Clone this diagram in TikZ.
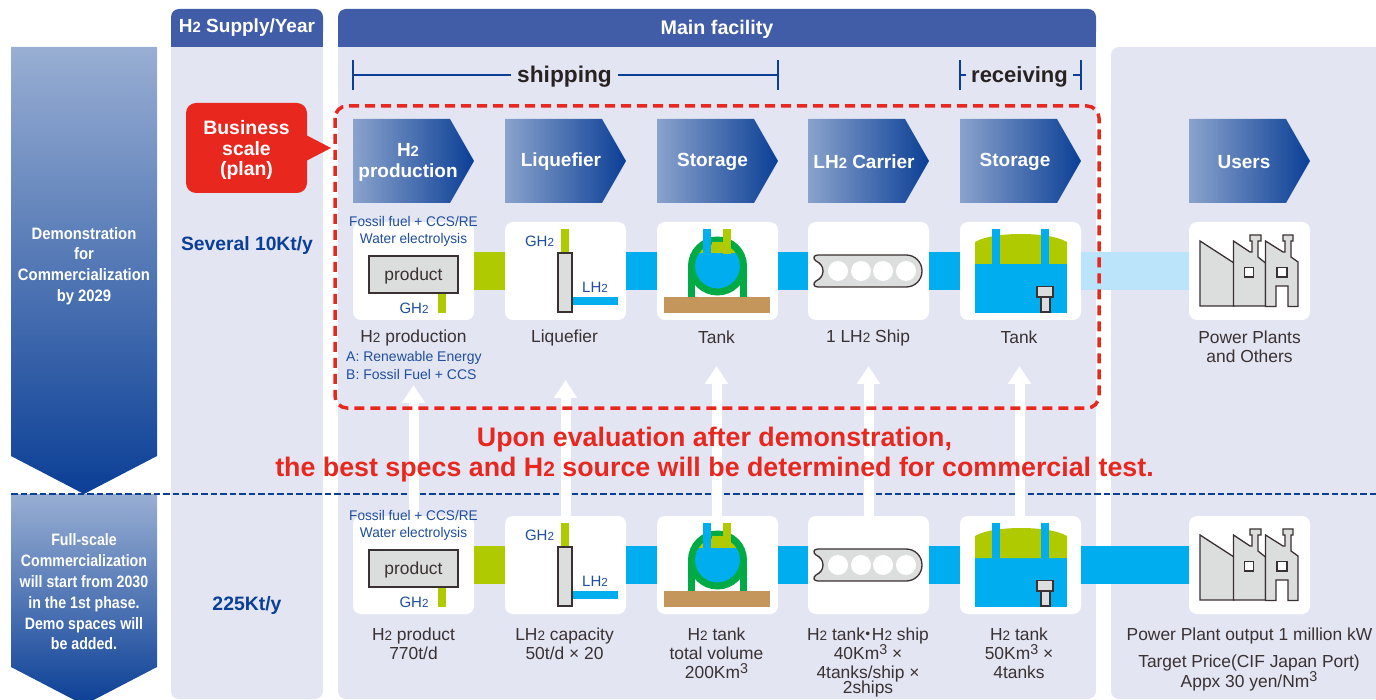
\documentclass[tikz,border=0pt]{standalone}
\usepackage{fontspec}
\setmainfont{Liberation Sans}
\newfontfamily\cjk{Noto Sans CJK JP}
\usetikzlibrary{arrows.meta}
\definecolor{panel}{HTML}{E3E5F3}
\definecolor{hdr}{HTML}{425DA8}
\definecolor{navy}{HTML}{0B3F96}
\definecolor{blu}{HTML}{1F4E9E}
\definecolor{dk}{HTML}{3A3132}
\definecolor{lime}{HTML}{AFCB00}
\definecolor{cyn}{HTML}{00AEEF}
\definecolor{ltcyn}{HTML}{BBE3F9}
\definecolor{gry}{HTML}{DCDDDD}
\definecolor{brn}{HTML}{C4965C}
\definecolor{grn}{HTML}{00AB45}
\definecolor{rd}{HTML}{E8271F}
\newcommand\Tw{\scalebox{0.78}{2}}
\newcommand\Th{\raisebox{0.3em}{\scalebox{0.82}{3}}}
\newcommand\fs[2]{\fontsize{#1}{#2}\selectfont}
\newcommand\sq[2]{\scalebox{#1}[1]{#2}}
\tikzset{
 x=1pt,y=-1pt,
 cardbox/.style={fill=white,rounded corners=8pt,minimum width=121pt,minimum height=98pt,inner sep=0pt},
 lbl/.style={inner sep=0pt,align=center,text=dk,font=\fs{17.4}{19}},
 bluelbl/.style={inner sep=0pt,align=center,text=blu,font=\fs{15}{17}},
 whitebold/.style={inner sep=0pt,align=center,text=white,font=\bfseries\fs{19}{21}},
 lefttext/.style={inner sep=0pt,align=center,text=white,font=\bfseries\fs{16.5}{20.8}},
 pipe/.style={line width=38pt},
 outline/.style={draw=dk,line width=1.3pt,fill=gry},
 upflow/.style={draw=white,line width=10pt,-{Triangle[width=22pt,length=18pt]}},
 bracket/.style={draw=navy,line width=1.8pt},
}
\newcommand\pentagon[4]{%
 \shade[left color=navy!48!white,right color=navy] (#1,119) -- (#1+97,119) -- (#1+121,161) -- (#1+97,203) -- (#1,203) -- cycle;
 \node[whitebold] (#2) at (#1+#3,162) {#4};}
\newcommand\icons{%
 % production
 \draw[fill=lime,draw=none] (438,293) rectangle (446,313);
 \draw[outline] (369,256) rectangle (458,293);
 % liquefier
 \fill[lime] (561,229) rectangle (569,254);
 \fill[cyn] (572,297) rectangle (618,305);
 \draw[outline] (558,253) rectangle (572,312);
 % tank 1
 \fill[brn] (664,297) rectangle (770,313);
 \fill[grn] (688,266) rectangle (695,297);
 \fill[grn] (740,266) rectangle (747,297);
 \fill[cyn] (717.5,266) circle[radius=23pt];
 \begin{scope}
  \clip (690,237) rectangle (745,253);
  \fill[lime] (717.5,266) circle[radius=23pt];
 \end{scope}
 \draw[grn,line width=7pt] (717.5,266) circle[radius=26pt];
 \fill[cyn] (703,229) rectangle (711,254);
 \fill[lime] (712,242) rectangle (731,253);
 \fill[lime] (723,229) rectangle (731,254);
 % ship
 \draw[outline] (818,255) -- (906,255) .. controls (915,255) and (922,262) .. (922,271) .. controls (922,280) and (915,287) .. (906,287) -- (818,287) .. controls (813,287) and (813,283) .. (816,281) .. controls (820,279) and (823,276) .. (823,271) .. controls (823,266) and (820,263) .. (816,261) .. controls (813,259) and (813,255) .. (818,255) -- cycle;
 \foreach \cx in {838,861,883,906}{\fill[white] (\cx,271) circle[radius=10pt];}
 % tank 2
 \fill[cyn] (975,264) rectangle (1067,313);
 \fill[lime] (975,264) -- (975,242) .. controls (985,236) and (1005,234) .. (1021,234) .. controls (1037,234) and (1057,236) .. (1067,242) -- (1067,264) -- cycle;
 \fill[cyn] (992,229) rectangle (1000,264);
 \fill[cyn] (1041,229) rectangle (1049,264);
 \draw[outline] (1041,297) rectangle (1050,312);
 \draw[outline] (1037,286.5) rectangle (1053,297);
 % factory
 \draw[outline,line join=miter] (1200,241) -- (1234,263) -- (1234,306) -- (1200,306) -- cycle;
 \draw[outline] (1233.5,241) -- (1250,252) -- (1252,252) -- (1252,241) -- (1250,241) -- (1250,235) -- (1261,235) -- (1261,241) -- (1258,241) -- (1258,257) -- (1265.5,263) -- (1265.5,306) -- (1233.5,306) -- cycle;
 \draw[outline] (1265.5,241) -- (1283,252) -- (1285,252) -- (1285,241) -- (1283,241) -- (1283,235) -- (1293,235) -- (1293,241) -- (1291,241) -- (1291,257) -- (1298,262) -- (1298,306.5) -- (1288,306.5) -- (1288,286) -- (1276,286) -- (1276,306.5) -- (1265.5,306.5) -- cycle;
 \draw[draw=dk,line width=1.5pt,fill=white] (1244.5,267.5) rectangle (1253.5,277);
 \draw[draw=dk,line width=1.5pt,fill=white] (1277,267.5) rectangle (1287,277);
 % texts
 \node[bluelbl,font=\fs{14}{17}] (tfos\rowtag) at (413.5,231.5) {\sq{0.975}{Fossil fuel + CCS/RE}\\\sq{0.975}{Water electrolysis}};
 \node[lbl] (tprod\rowtag) at (413.5,276) {product};
 \node[bluelbl] (tgh\rowtag) at (414,308.5) {GH\Tw};
 \node[bluelbl] (tghb\rowtag) at (539.5,241.5) {GH\Tw};
 \node[bluelbl] (tlh\rowtag) at (595,287.5) {LH\Tw};
}
\begin{document}
\begin{tikzpicture}
\useasboundingbox (0,0) rectangle (1376,700);
\clip (0,0) rectangle (1376,700);
% panels
\fill[panel,rounded corners=8pt] (171,20) rectangle (323,699);
\fill[panel,rounded corners=8pt] (338,20) rectangle (1096,699);
\fill[panel,rounded corners=8pt] (1111,47) rectangle (1400,699);
\fill[hdr,rounded corners=8pt] (171,9) rectangle (323,40);
\fill[hdr] (171,25) rectangle (323,47);
\fill[hdr,rounded corners=8pt] (338,9) rectangle (1096,40);
\fill[hdr] (338,25) rectangle (1096,47);
\node[whitebold] (hsup) at (247,28) {H\Tw\ Supply/Year};
\node[whitebold,font=\bfseries\fs{19.7}{21}] (hmain) at (717,29.5) {Main facility};
% left arrows
\shade[top color=navy!42!white,bottom color=navy] (11,47) -- (157,47) -- (157,456) -- (84,494) -- (11,456) -- cycle;
\shade[top color=navy!42!white,bottom color=navy] (11,494) -- (157,494) -- (157,667) -- (84,705) -- (11,667) -- cycle;
\node[lefttext] (ldemo) at (84,266) {\sq{0.9}{Demonstration}\\\sq{0.9}{for}\\\sq{0.9}{Commercialization}\\\sq{0.9}{by 2029}};
\node[lefttext] (lfull) at (84,592) {\sq{0.86}{Full-scale}\\\sq{0.86}{Commercialization}\\\sq{0.86}{will start from 2030}\\\sq{0.86}{in the 1st phase.}\\\sq{0.86}{Demo spaces will}\\\sq{0.86}{be added.}};
% business tag
\fill[rd] (306,135) -- (331,148) -- (306,161) -- cycle;
\node[fill=rd,rounded corners=10pt,minimum width=121pt,minimum height=90pt,inner sep=0pt] (biz) at (246.5,148) {};
\node[inner sep=0pt,text=white,align=center,font=\bfseries\fs{19.4}{20.7}] (biztext) at (246.5,150) {Business\\scale\\(plan)};
\node[inner sep=0pt,text=navy,font=\bfseries\fs{19.3}{21}] (sev) at (247,246) {Several 10Kt/y};
\node[inner sep=0pt,text=navy,font=\bfseries\fs{19.4}{21}] (k225) at (247,605.5) {225Kt/y};
% brackets
\node[inner sep=6pt,text=dk!70!black,font=\bfseries\fs{22.7}{26}] (ship) at (564.5,77) {shipping};
\node[inner sep=5pt,text=dk!70!black,font=\bfseries\fs{22}{26}] (recv) at (1019.5,77) {receiving};
\coordinate (s1) at (353,75); \coordinate (s2) at (778,75);
\coordinate (r1) at (960,75); \coordinate (r2) at (1081,75);
\draw[bracket] (s1) -- (s1 -| ship.west); \draw[bracket] (s2 -| ship.east) -- (s2);
\draw[bracket] (r1) -- (r1 -| recv.west); \draw[bracket] (r2 -| recv.east) -- (r2);
\foreach \c in {s1,s2,r1,r2}{\draw[bracket] ([yshift=15pt]\c) -- ([yshift=-15pt]\c);}
% pentagons
\pentagon{353}{pa}{55}{H\Tw\\production}
\pentagon{505}{pb}{56}{Liquefier}
\pentagon{657}{pc}{55.5}{Storage}
\pentagon{808}{pd}{56}{LH\Tw\ Carrier}
\pentagon{960}{pe}{55}{Storage}
\pentagon{1189}{pf}{55}{Users}
% cards row 1
\node[cardbox] (a1) at (413.5,271) {};
\node[cardbox] (a2) at (565.5,271) {};
\node[cardbox] (a3) at (717.5,271) {};
\node[cardbox] (a4) at (868.5,271) {};
\node[cardbox] (a5) at (1020.5,271) {};
\node[cardbox] (a6) at (1249.5,271) {};
% cards row 2
\node[cardbox] (b1) at (413.5,565) {};
\node[cardbox] (b2) at (565.5,565) {};
\node[cardbox] (b3) at (717.5,565) {};
\node[cardbox] (b4) at (868.5,565) {};
\node[cardbox] (b5) at (1020.5,565) {};
\node[cardbox] (b6) at (1249.5,565) {};
% pipes
\draw[pipe,lime] (a1) -- (a2); \draw[pipe,cyn] (a2) -- (a3); \draw[pipe,cyn] (a3) -- (a4); \draw[pipe,cyn] (a4) -- (a5); \draw[pipe,ltcyn] (a5) -- (a6);
\draw[pipe,lime] (b1) -- (b2); \draw[pipe,cyn] (b2) -- (b3); \draw[pipe,cyn] (b3) -- (b4); \draw[pipe,cyn] (b4) -- (b5); \draw[pipe,cyn] (b5) -- (b6);
% blue dashed line
\coordinate (dl) at (11,494); \coordinate (dr) at (1376,494);
\draw[navy,line width=2pt,dash pattern=on 6.5pt off 3pt] (dl) -- (dr);
% up arrows
\coordinate (u1) at (413.5,385); \coordinate (u2) at (565.5,380); \coordinate (u3) at (716.5,366); \coordinate (u4) at (868.5,366); \coordinate (u5) at (1019.5,366);
\draw[upflow] (u1 |- b1.north) -- (u1);
\draw[upflow] (u2 |- b2.north) -- (u2);
\draw[upflow] (u3 |- b3.north) -- (u3);
\draw[upflow] (u4 |- b4.north) -- (u4);
\draw[upflow] (u5 |- b5.north) -- (u5);
% icons
\def\rowtag{x}\icons
\begin{scope}[shift={(0,294)}]\def\rowtag{y}\icons\end{scope}
% row 1 labels
\node[lbl] (la1) at (413.5,338) {H\Tw\ production};
\node[bluelbl,anchor=west,font=\fs{14}{17}] (la1b) at (346,357.5) {A: Renewable Energy};
\node[bluelbl,anchor=west,font=\fs{14}{17}] (la1c) at (346,374.5) {B: Fossil Fuel + CCS};
\node[lbl] (la2) at (564.5,338) {Liquefier};
\node[lbl] (la3) at (716.5,337) {Tank};
\node[lbl] (la4) at (868,338) {1 LH\Tw\ Ship};
\node[lbl] (la5) at (1019,337) {Tank};
\node[lbl] (la6) at (1249.5,347) {Power Plants\\and Others};
% row 2 labels
\node[lbl,anchor=north] (lb1) at (413.5,627.5) {H\Tw\ product\\770t/d};
\node[lbl,anchor=north] (lb2) at (564.5,627.5) {LH\Tw\ capacity\\50t/d × 20};
\node[lbl,anchor=north] (lb3) at (716.5,627.5) {H\Tw\ tank\\total volume\\200Km\Th};
\node[lbl,anchor=north] (lb4) at (868,627.5) {H\Tw\ tank\makebox[0.4em]{\cjk ・}H\Tw\ ship\\40Km\Th\ ×\\4tanks/ship ×\\[-4pt]2ships};
\node[lbl,anchor=north] (lb5) at (1019,627.5) {H\Tw\ tank\\50Km\Th\ ×\\4tanks};
\node[lbl] (lb6) at (1249.5,635.5) {Power Plant output 1 million kW};
\node[lbl,anchor=north,font=\fs{17.4}{17}] (lb6b) at (1249,654.5) {Target Price(CIF Japan Port)\\Appx 30 yen/Nm\Th};
% red dashed box
\draw[rd,line width=3.5pt,rounded corners=12pt,dash pattern=on 10pt off 6pt] (335,106) rectangle (1099,408);
% red text
\node[inner sep=0pt,align=center,text=rd,font=\bfseries\fs{26.8}{30}] (eval) at (714.5,455) {Upon evaluation after demonstration,\\the best specs and H\Tw\ source will be determined for commercial test.};
\end{tikzpicture}
\end{document}
